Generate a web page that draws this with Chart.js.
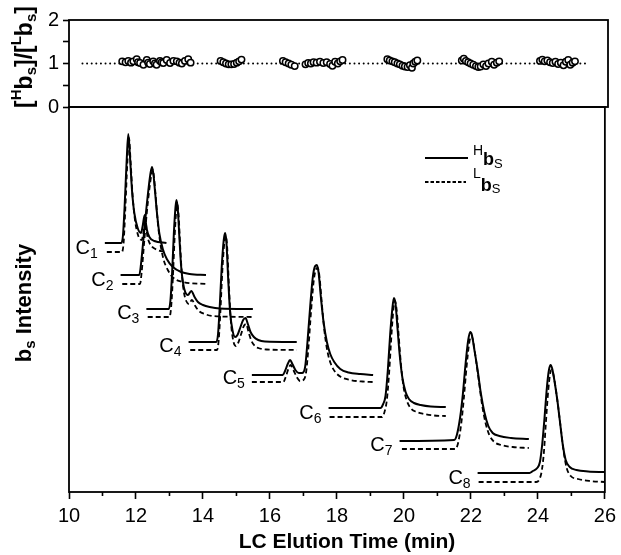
<!DOCTYPE html>
<html><head><meta charset="utf-8">
<script src="https://cdn.jsdelivr.net/npm/chart.js@4.4.1/dist/chart.umd.min.js"></script>
<style>
html,body{margin:0;padding:0;background:#fff;}
#wrap{position:relative;width:621px;height:555px;background:#fff;}
canvas{position:absolute;left:0;top:0;}
</style></head><body>
<div id="wrap"><canvas id="bot" width="621" height="555"></canvas><canvas id="top" width="621" height="555"></canvas></div>
<script>
// ---------- DATA ----------
const xMin = 10, xMax = 26;
const ratioMin = 0, ratioMax = 2;
const intensityMax = 385; // arbitrary intensity units

// [time (min), intensity (a.u.)]  H = heavy (solid), L = light (dashed)
const C1_H = [[11.07,249],[11.56,249],[11.61,256],[11.66,285],[11.72,330],[11.77,358],[11.82,336],[11.88,302],[11.95,279],[12.05,264],[12.15,259],[12.2,266],[12.26,277],[12.32,263],[12.4,255],[12.55,251],[12.91,249]];
const C1_L = [[11.13,240],[11.58,240],[11.63,249],[11.68,282],[11.74,328],[11.79,354],[11.84,330],[11.9,296],[11.97,272],[12.07,256],[12.17,252],[12.22,259],[12.28,271],[12.34,256],[12.42,248],[12.58,243],[12.91,240]];
const C2_H = [[11.54,217],[12.1,217],[12.15,228],[12.22,252],[12.3,280],[12.38,305],[12.44,320],[12.48,325],[12.52,318],[12.57,300],[12.63,278],[12.7,258],[12.8,243],[12.92,233],[13.1,225],[13.35,220],[13.6,218],[14.09,217]];
const C2_L = [[11.59,208],[12.12,208],[12.17,220],[12.24,248],[12.32,278],[12.4,303],[12.46,317],[12.5,322],[12.54,314],[12.59,295],[12.65,270],[12.72,250],[12.82,233],[12.95,222],[13.12,214],[13.4,210],[14.09,208]];
const C3_H = [[12.31,183],[12.98,183],[13.03,192],[13.08,220],[13.13,258],[13.18,285],[13.21,292],[13.25,282],[13.3,252],[13.35,225],[13.41,208],[13.47,200],[13.55,197],[13.65,201],[13.75,195],[13.85,190],[14.0,187],[14.2,185],[14.5,183.5],[15.49,183]];
const C3_L = [[12.35,175],[13.0,175],[13.05,185],[13.1,213],[13.15,252],[13.2,281],[13.23,288],[13.27,278],[13.32,246],[13.37,218],[13.43,200],[13.5,191],[13.58,188],[13.67,192],[13.77,186],[13.88,181],[14.05,178],[14.3,176],[15.49,175]];
const C4_H = [[13.57,150],[14.4,150],[14.45,158],[14.5,185],[14.56,225],[14.62,252],[14.66,259],[14.7,250],[14.75,215],[14.81,180],[14.88,162],[14.96,155],[15.03,157],[15.12,165],[15.2,172],[15.27,174],[15.34,168],[15.42,160],[15.52,155],[15.65,152],[15.85,150.5],[16.8,150]];
const C4_L = [[13.62,142],[14.42,142],[14.47,152],[14.52,180],[14.58,222],[14.64,250],[14.68,256],[14.72,246],[14.77,210],[14.83,172],[14.9,152],[14.98,146],[15.05,149],[15.14,158],[15.22,166],[15.29,168],[15.36,160],[15.45,151],[15.55,146],[15.7,143.5],[15.9,142.5],[16.8,142]];
const C5_H = [[15.46,117],[16.38,117],[16.45,121],[16.53,128],[16.6,132],[16.67,128],[16.76,122],[16.86,119],[16.96,119],[17.05,125],[17.12,150],[17.2,185],[17.28,215],[17.35,226],[17.4,227],[17.45,220],[17.52,195],[17.6,170],[17.7,150],[17.8,138],[17.92,130],[18.1,123],[18.35,119.5],[18.7,118],[19.08,117]];
const C5_L = [[15.46,110],[16.4,110],[16.47,115],[16.55,123],[16.62,127],[16.7,122],[16.8,115],[16.9,111],[17.0,112],[17.08,120],[17.15,145],[17.23,182],[17.31,212],[17.38,223],[17.43,224],[17.48,215],[17.55,188],[17.63,160],[17.72,140],[17.82,128],[17.95,120],[18.12,115],[18.4,112],[18.75,110.5],[19.08,110]];
const C6_H = [[17.75,84],[19.3,84],[19.38,88],[19.45,96],[19.52,122],[19.59,158],[19.65,182],[19.7,194],[19.75,188],[19.81,163],[19.88,135],[19.96,113],[20.05,100],[20.15,93],[20.3,89],[20.5,87],[20.8,85.5],[21.25,85]];
const C6_L = [[17.78,75],[19.35,75],[19.42,80],[19.49,92],[19.56,120],[19.63,158],[19.69,184],[19.73,191],[19.78,183],[19.84,158],[19.91,128],[19.99,105],[20.08,92],[20.2,84],[20.38,80],[20.6,78],[20.9,76.5],[21.25,76]];
const C7_H = [[19.87,51],[21.5,52],[21.58,57],[21.68,75],[21.76,98],[21.84,128],[21.92,152],[21.98,160],[22.03,157],[22.1,143],[22.2,122],[22.3,98],[22.4,80],[22.52,66],[22.65,59],[22.85,56],[23.2,54],[23.73,53]];
const C7_L = [[19.94,43],[21.53,43],[21.61,48],[21.71,68],[21.79,94],[21.87,125],[21.95,149],[22.01,156],[22.06,152],[22.13,137],[22.23,113],[22.33,88],[22.43,70],[22.55,57],[22.7,50],[22.9,47],[23.25,45],[23.73,44]];
const C8_H = [[22.2,19],[23.75,19],[23.85,21],[23.98,24],[24.06,30],[24.13,48],[24.2,75],[24.27,105],[24.33,122],[24.38,127],[24.43,123],[24.5,110],[24.58,92],[24.66,70],[24.74,48],[24.83,32],[24.95,25],[25.15,22],[25.5,20.5],[26.0,20]];
const C8_L = [[22.23,10],[23.95,10],[24.05,13],[24.12,22],[24.18,40],[24.24,70],[24.31,102],[24.37,119],[24.41,122],[24.46,118],[24.53,104],[24.61,84],[24.69,62],[24.77,40],[24.86,24],[24.98,16],[25.2,13],[25.55,11],[26.0,10]];

const traceLabels = ['1','2','3','4','5','6','7','8'];

// ratio [Hbs]/[Lbs] vs time
const ratioTime  = [11.58,11.68,11.76,11.84,11.91,12.01,12.05,12.11,12.21,12.31,12.35,12.40,12.50,12.55,12.60,12.70,12.75,12.80,12.90,13.00,13.10,13.20,13.28,13.35,13.44,13.54,13.61,
                    14.50,14.58,14.66,14.74,14.82,14.90,14.98,15.05,15.12,
                    16.35,16.43,16.52,16.60,16.70,
                    17.02,17.10,17.18,17.26,17.35,17.45,17.55,17.65,17.75,17.82,17.90,17.98,18.05,18.12,
                    19.45,19.52,19.60,19.67,19.75,19.82,19.90,19.97,20.05,20.12,20.18,20.22,20.28,20.34,
                    21.66,21.72,21.78,21.85,21.92,22.00,22.08,22.15,22.22,22.30,22.38,22.45,22.55,22.62,22.70,22.77,
                    23.98,24.05,24.12,24.20,24.28,24.36,24.44,24.52,24.60,24.68,24.75,24.82,24.88,24.95,25.02];
const ratioValue = [1.05,1.03,1.06,1.02,1.05,1.10,1.03,1.01,0.97,1.08,1.02,0.99,1.05,1.00,0.97,1.06,1.03,1.01,1.08,1.01,1.06,1.05,1.02,1.00,1.06,1.10,1.02,
                    1.06,1.03,1.00,0.98,0.98,0.99,1.02,1.05,1.09,
                    1.06,1.03,1.00,0.97,0.94,
                    0.98,1.01,1.00,1.03,1.02,1.04,1.01,1.03,0.99,0.95,1.04,1.00,1.05,1.08,
                    1.10,1.07,1.05,1.03,1.00,0.98,0.95,0.93,0.92,0.96,0.90,1.00,1.04,1.07,
                    1.07,1.11,1.06,1.03,1.00,0.97,0.94,0.92,0.93,0.98,0.94,1.00,1.04,0.97,1.02,1.05,
                    1.06,1.09,1.05,1.07,1.03,1.01,1.04,0.99,1.02,0.96,1.04,1.08,0.97,1.02,1.05];
const refLineTime  = [10.4, 25.45];
const refLineValue = [1.0, 1.0];

// ---------- STYLE / HELPERS ----------
const FAM = "'Liberation Sans', Arial, Helvetica, sans-serif";
const heavy = [C1_H,C2_H,C3_H,C4_H,C5_H,C6_H,C7_H,C8_H];
const light = [C1_L,C2_L,C3_L,C4_L,C5_L,C6_L,C7_L,C8_L];
const toXY = a => a.map(p => ({x:p[0], y:p[1]}));

function richWidth(ctx, segs){ let w=0; for(const s of segs){ ctx.font=s.f; w+=ctx.measureText(s.t).width; } return w; }
function drawRich(ctx, x, y, segs){ let cx=x; for(const s of segs){ ctx.font=s.f; ctx.fillText(s.t, cx, y+(s.dy||0)); cx+=ctx.measureText(s.t).width; } }

const frame = {
  id:'frame',
  afterDraw(chart){
    const {ctx, chartArea:a} = chart;
    ctx.save(); ctx.strokeStyle='#000'; ctx.lineWidth=1.8;
    ctx.strokeRect(a.left, a.top, a.right-a.left, a.bottom-a.top);
    ctx.restore();
  }
};

const bottomText = {
  id:'bottomText',
  afterDraw(chart){
    const {ctx, chartArea:a} = chart;
    const xs = chart.scales.x, ys = chart.scales.y;
    ctx.save();
    ctx.fillStyle='#000'; ctx.strokeStyle='#000';
    // minor ticks
    ctx.lineWidth=1.6;
    for(let v=xMin+1; v<xMax; v+=2){
      const px = xs.getPixelForValue(v);
      ctx.beginPath(); ctx.moveTo(px, a.bottom); ctx.lineTo(px, a.bottom+4); ctx.stroke();
    }
    ctx.textBaseline='alphabetic'; ctx.textAlign='left';
    // x title
    ctx.font = "bold 21px "+FAM;
    ctx.textAlign='center';
    ctx.fillText('LC Elution Time (min)', 347, 548);
    ctx.textAlign='left';
    // y title (rotated)
    const B = "bold 22px "+FAM, Bs = "bold 15px "+FAM;
    ctx.save(); ctx.translate(31, 303); ctx.rotate(-Math.PI/2);
    const segY = [{t:'b',f:B},{t:'s',f:Bs,dy:4},{t:' Intensity',f:B}];
    drawRich(ctx, -richWidth(ctx,segY)/2, 0, segY);
    ctx.restore();
    // trace labels C1..C8
    const big = "20px "+FAM, sub = "14px "+FAM;
    heavy.forEach((tr,i)=>{
      const right = xs.getPixelForValue(tr[0][0]) - 7;
      const base = ys.getPixelForValue(light[i][0][1]) + 2;
      const segs = [{t:'C',f:big},{t:traceLabels[i],f:sub,dy:4}];
      drawRich(ctx, right - richWidth(ctx,segs), base, segs);
    });
    // legend
    ctx.lineWidth=2;
    ctx.beginPath(); ctx.moveTo(425,158); ctx.lineTo(468,158); ctx.stroke();
    ctx.lineWidth=1.8;
    ctx.setLineDash([3.5,2]);
    ctx.beginPath(); ctx.moveTo(425,182); ctx.lineTo(466,182); ctx.stroke();
    ctx.setLineDash([]);
    const sup = "14px "+FAM, lb = "bold 18px "+FAM, ls = "13px "+FAM;
    drawRich(ctx, 473, 165, [{t:'H',f:sup,dy:-10},{t:'b',f:lb},{t:'S',f:ls,dy:3}]);
    drawRich(ctx, 473, 191, [{t:'L',f:sup,dy:-13},{t:'b',f:lb},{t:'S',f:ls,dy:2}]);
    ctx.restore();
  }
};

const topText = {
  id:'topText',
  afterDraw(chart){
    const {ctx} = chart;
    ctx.save(); ctx.fillStyle='#000'; ctx.textBaseline='alphabetic'; ctx.textAlign='left';
    const B = "bold 23px "+FAM, S = "bold 15px "+FAM;
    ctx.translate(32, 57); ctx.rotate(-Math.PI/2);
    const segs = [{t:'[',f:B},{t:'H',f:S,dy:-11},{t:'b',f:B},{t:'s',f:S,dy:4},{t:']/[',f:B},{t:'L',f:S,dy:-11},{t:'b',f:B},{t:'s',f:S,dy:4},{t:']',f:B}];
    drawRich(ctx, -richWidth(ctx,segs)/2, 0, segs);
    ctx.restore();
  }
};

// ---------- BOTTOM CHART ----------
const botDatasets = [];
heavy.forEach((tr,i)=>{
  botDatasets.push({label:'H C'+traceLabels[i], data:toXY(tr), borderColor:'#000', borderWidth:2, pointRadius:0, fill:false, cubicInterpolationMode:'monotone'});
});
light.forEach((tr,i)=>{
  botDatasets.push({label:'L C'+traceLabels[i], data:toXY(tr), borderColor:'#000', borderWidth:1.8, borderDash:[5,3], pointRadius:0, fill:false, cubicInterpolationMode:'monotone'});
});

new Chart(document.getElementById('bot'), {
  type:'line',
  data:{datasets:botDatasets},
  options:{
    responsive:false, animation:false, devicePixelRatio:1,
    layout:{padding:{left:0, top:107, right:13, bottom:0}},
    plugins:{legend:{display:false}, tooltip:{enabled:false}},
    scales:{
      x:{type:'linear', min:xMin, max:xMax, afterFit:s=>{s.height=63;},
         border:{display:false},
         grid:{drawOnChartArea:false, drawTicks:true, tickLength:7, tickWidth:1.6,
               tickColor:c => (c.tick && c.tick.value % 2 === 0) ? '#000' : 'rgba(0,0,0,0)'},
         ticks:{stepSize:1, autoSkip:false, maxRotation:0, padding:5, color:'#000',
                font:{family:FAM, size:20}, callback:v => (v % 2 === 0) ? String(v) : ''}},
      y:{type:'linear', min:0, max:intensityMax, afterFit:s=>{s.width=69;},
         border:{display:false}, grid:{display:false}, ticks:{display:false}}
    }
  },
  plugins:[frame, bottomText]
});

// ---------- TOP CHART ----------
new Chart(document.getElementById('top'), {
  type:'scatter',
  data:{datasets:[
    {label:'ratio', data:ratioTime.map((t,i)=>({x:t, y:ratioValue[i]})), showLine:false,
     pointRadius:3.2, pointBorderWidth:1.5, pointBorderColor:'#000', pointBackgroundColor:'#fff'},
    {label:'ref', data:refLineTime.map((t,i)=>({x:t, y:refLineValue[i]})), showLine:true,
     pointRadius:0, borderColor:'#000', borderWidth:2, borderDash:[0.01,4.6], borderCapStyle:'round'}
  ]},
  options:{
    responsive:false, animation:false, devicePixelRatio:1,
    layout:{padding:{left:0, top:20, right:13, bottom:448}},
    plugins:{legend:{display:false}, tooltip:{enabled:false}},
    scales:{
      x:{type:'linear', min:xMin, max:xMax, display:false},
      y:{type:'linear', min:ratioMin, max:ratioMax, afterFit:s=>{s.width=69;},
         border:{display:false},
         grid:{drawOnChartArea:false, drawTicks:true, tickLength:6, tickWidth:1.6, tickColor:'#000'},
         ticks:{stepSize:0.5, autoSkip:false, padding:4, color:'#000', font:{family:FAM, size:20},
                callback:v => Number.isInteger(v) ? String(v) : ''}}
    }
  },
  plugins:[frame, topText]
});
</script></body></html>
